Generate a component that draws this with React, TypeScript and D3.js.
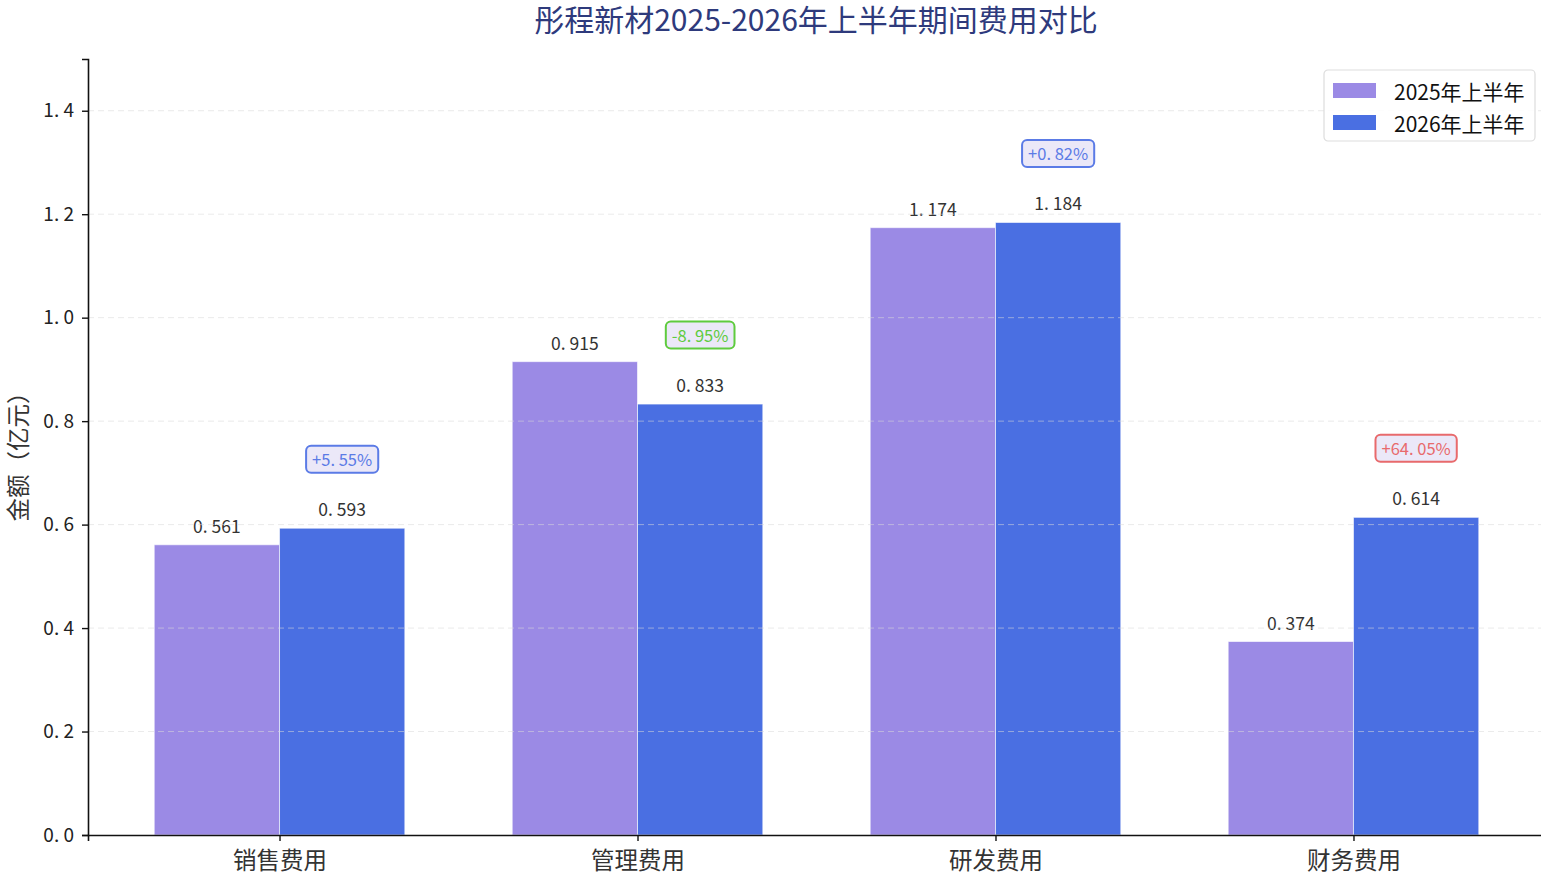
import React, { useEffect, useRef } from "react";
import * as d3 from "d3";

const categories = ["销售费用", "管理费用", "研发费用", "财务费用"];
const values2025 = [0.561, 0.915, 1.174, 0.374];
const values2026 = [0.593, 0.833, 1.184, 0.614];
const changeLabels = ["+5.55%", "-8.95%", "+0.82%", "+64.05%"];
const changeValues = [5.55, -8.95, 0.82, 64.05];
const seriesNames = ["2025年上半年", "2026年上半年"];
const yTicks = [0, 0.2, 0.4, 0.6, 0.8, 1.0, 1.2, 1.4];

const FONT = "'Noto Sans CJK SC', 'Noto Sans', sans-serif";
const COLORS = ["#9b8ae5", "#4a6fe2"];

const App: React.FC = () => {
  const svgRef = useRef<SVGSVGElement | null>(null);

  useEffect(() => {
    if (!svgRef.current) return;
    const svg = d3.select(svgRef.current);
    svg.selectAll("*").remove();

    const width = 1541;
    const height = 878;
    const barW = 0.35;

    const x = d3.scaleLinear().domain([-0.535, 3.535]).range([88, 1545]);
    const y = d3.scaleLinear().domain([0, 1.5]).range([835, 59]);

    svg.attr("width", width).attr("height", height);

    // title
    svg
      .append("text")
      .attr("x", 816)
      .attr("y", 31)
      .attr("text-anchor", "middle")
      .attr("font-family", FONT)
      .attr("font-size", 30)
      .attr("fill", "#2e3a7c")
      .text("彤程新材2025-2026年上半年期间费用对比");

    // bars
    const series = [values2025, values2026];
    series.forEach((vals, si) => {
      const offset = si === 0 ? -barW / 2 : barW / 2;
      svg
        .append("g")
        .selectAll("rect")
        .data(vals)
        .join("rect")
        .attr("x", (_, i) => x(i + offset - barW / 2))
        .attr("y", (d) => y(d))
        .attr("width", (_, i) => x(i + offset + barW / 2) - x(i + offset - barW / 2))
        .attr("height", (d) => y(0) - y(d))
        .attr("fill", COLORS[si])
        .attr("stroke", "#ffffff")
        .attr("stroke-opacity", 0.6)
        .attr("stroke-width", 1);

      svg
        .append("g")
        .selectAll("text")
        .data(vals)
        .join("text")
        .attr("x", (_, i) => x(i + offset))
        .attr("y", (d) => y(d) - 12)
        .attr("text-anchor", "middle")
        .attr("font-family", FONT)
        .attr("font-size", 17.5)
        .attr("fill", "#333")
        .text((d) => d.toFixed(3).replace(".", ". "));
    });

    // grid (drawn over bars)
    svg
      .append("g")
      .selectAll("line")
      .data(yTicks.slice(1))
      .join("line")
      .attr("x1", x(-0.535))
      .attr("x2", width)
      .attr("y1", (d) => y(d))
      .attr("y2", (d) => y(d))
      .attr("stroke", "#d8d8d8")
      .attr("stroke-opacity", 0.55)
      .attr("stroke-dasharray", "6,4")
      .attr("stroke-width", 1);

    // change badges
    const badgeColor = (v: number) => (v < 0 ? "#5fcb3e" : v > 10 ? "#e86a6c" : "#5b7be6");
    changeLabels.forEach((lab, i) => {
      const cx = x(i + barW / 2);
      const cy = y(values2026[i]) - 69;
      const c = badgeColor(changeValues[i]);
      const g = svg.append("g");
      const t = g
        .append("text")
        .attr("x", cx)
        .attr("y", cy)
        .attr("text-anchor", "middle")
        .attr("dominant-baseline", "central")
        .attr("font-family", FONT)
        .attr("font-size", 16.5)
        .attr("fill", c)
        .text(lab.replace(".", ". "));
      const tw = (t.node() as SVGTextElement).getComputedTextLength();
      g.insert("rect", "text")
        .attr("x", cx - tw / 2 - 6)
        .attr("y", cy - 13.5)
        .attr("width", tw + 12)
        .attr("height", 27)
        .attr("rx", 5)
        .attr("fill", "#ebe8f8")
        .attr("stroke", c)
        .attr("stroke-width", 2);
    });

    // y axis
    const yAxis = svg
      .append("g")
      .attr("transform", `translate(${x(-0.535)},0)`)
      .call(
        d3
          .axisLeft(y)
          .tickValues(yTicks)
          .tickSize(6)
          .tickPadding(8)
          .tickFormat((d) => (d as number).toFixed(1).replace(".", ". "))
      );
    yAxis.select(".domain").attr("stroke", "#111").attr("stroke-width", 1.6);
    yAxis.selectAll(".tick line").attr("stroke", "#111").attr("stroke-width", 1.4);
    yAxis
      .selectAll(".tick text")
      .attr("font-family", FONT)
      .attr("font-size", 19)
      .attr("fill", "#222");

    // x axis
    const xAxis = svg
      .append("g")
      .attr("transform", `translate(0,${y(0)})`)
      .call(
        d3
          .axisBottom(x)
          .tickValues(categories.map((_, i) => i))
          .tickSize(6)
          .tickPadding(11)
          .tickFormat((d) => categories[d as number])
      );
    xAxis.select(".domain").attr("stroke", "#111").attr("stroke-width", 1.6);
    xAxis.selectAll(".tick line").attr("stroke", "#111").attr("stroke-width", 1.4);
    xAxis
      .selectAll(".tick text")
      .attr("font-family", FONT)
      .attr("font-size", 23.5)
      .attr("fill", "#333");

    // y label
    svg
      .append("text")
      .attr("transform", `translate(27,${(y(0) + y(1.5)) / 2 + 4}) rotate(-90)`)
      .attr("text-anchor", "middle")
      .attr("font-family", FONT)
      .attr("font-size", 23.5)
      .attr("fill", "#333")
      .text("金额（亿元）");

    // legend
    const lg = svg.append("g").attr("transform", "translate(1324,70)");
    lg.append("rect")
      .attr("width", 211)
      .attr("height", 71)
      .attr("rx", 4)
      .attr("fill", "#fff")
      .attr("fill-opacity", 0.85)
      .attr("stroke", "#dddddd")
      .attr("stroke-width", 1.2);
    seriesNames.forEach((name, i) => {
      lg.append("rect")
        .attr("x", 9)
        .attr("y", 13 + i * 32)
        .attr("width", 43)
        .attr("height", 15)
        .attr("fill", COLORS[i]);
      lg.append("text")
        .attr("x", 70)
        .attr("y", 20.5 + i * 32)
        .attr("dominant-baseline", "central")
        .attr("font-family", FONT)
        .attr("font-size", 21)
        .attr("fill", "#111")
        .text(name);
    });
  }, []);

  return (
    <svg
      ref={svgRef}
      style={{ position: "absolute", top: 0, left: 0, background: "#fff" }}
    ></svg>
  );
};

export default App;
